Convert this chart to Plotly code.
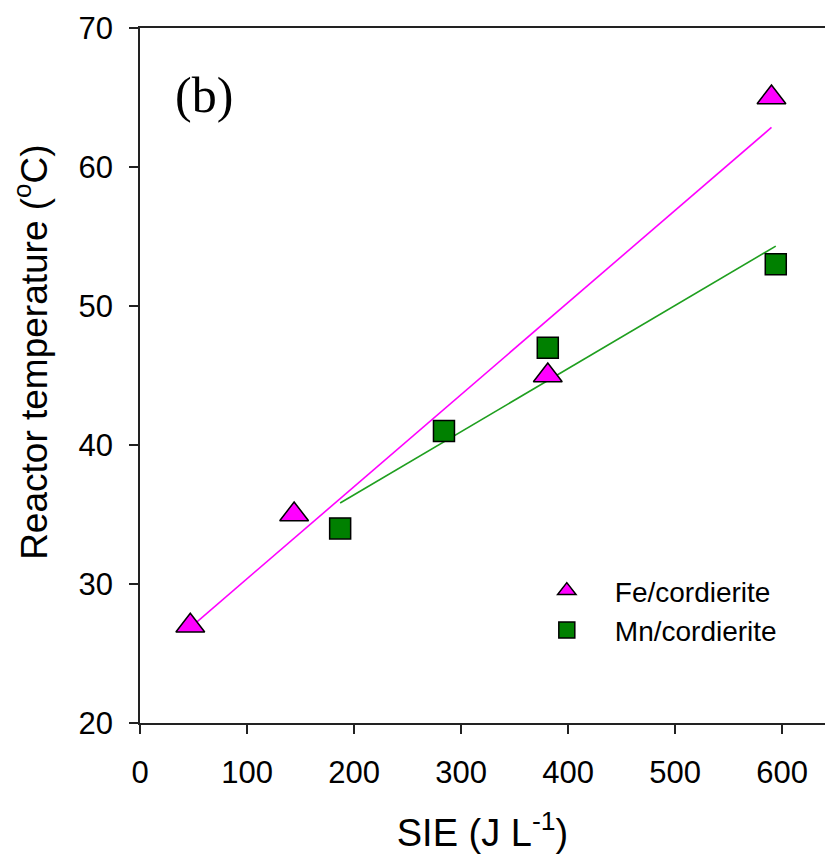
import numpy as np
import plotly.graph_objects as go

# Data
fe_x = [47, 144, 381, 590]
fe_y = [27, 35, 45, 65]
mn_x = [187, 284, 381, 594]
mn_y = [34, 41, 47, 53]

x_ticks = [0, 100, 200, 300, 400, 500, 600]
y_ticks = [20, 30, 40, 50, 60, 70]

# Linear regression fits (as drawn in the reference)
fe_fit = np.polyfit(fe_x, fe_y, 1)
mn_fit = np.polyfit(mn_x, mn_y, 1)
fe_lx = [min(fe_x), max(fe_x)]
mn_lx = [min(mn_x), max(mn_x)]

fig = go.Figure()
fig.add_trace(go.Scatter(x=fe_lx, y=list(np.polyval(fe_fit, fe_lx)), mode="lines",
                         line=dict(color="#ff00ff", width=1.6), showlegend=False, hoverinfo="skip"))
fig.add_trace(go.Scatter(x=mn_lx, y=list(np.polyval(mn_fit, mn_lx)), mode="lines",
                         line=dict(color="#1f9f1f", width=1.6), showlegend=False, hoverinfo="skip"))
fig.add_trace(go.Scatter(x=fe_x, y=fe_y, mode="markers", name="Fe/cordierite",
                         marker=dict(symbol="triangle-up", size=25, color="#ff00ff",
                                     line=dict(color="black", width=1.5))))
fig.add_trace(go.Scatter(x=mn_x, y=mn_y, mode="markers", name="Mn/cordierite",
                         marker=dict(symbol="square", size=21, color="#008000",
                                     line=dict(color="black", width=1.5))))

axis_common = dict(showgrid=False, zeroline=False, showline=True, linecolor="#222",
                   linewidth=1.8, ticks="outside", ticklen=9, tickwidth=1.6, tickcolor="#222",
                   tickfont=dict(family="Liberation Sans, Arial", size=31, color="black"))

fig.update_xaxes(range=[0, 640], tickvals=x_ticks, mirror=True, ticklabelstandoff=12,
                 title=dict(text="SIE (J L<sup>-1</sup>)", standoff=30,
                            font=dict(family="Liberation Sans, Arial", size=38, color="black")),
                 **axis_common)
fig.update_yaxes(range=[20, 70], tickvals=y_ticks, ticklabelstandoff=10, **axis_common)

fig.add_annotation(text="Reactor temperature (<sup>o</sup>C)", textangle=-90,
                   x=-0.1577, y=0.534, xref="paper", yref="paper", showarrow=False,
                   xanchor="center", yanchor="middle",
                   font=dict(family="Liberation Sans, Arial", size=37, color="black"))

fig.add_annotation(text="(b)", x=0.0935, y=0.9036, xref="paper", yref="paper",
                   showarrow=False, xanchor="center", yanchor="middle",
                   font=dict(family="Liberation Serif, Times New Roman", size=50, color="black"))

fig.update_layout(
    width=825, height=862,
    margin=dict(l=140, r=0, t=28, b=139, autoexpand=False),
    paper_bgcolor="white", plot_bgcolor="white",
    showlegend=True,
    legend=dict(x=0.553, y=0.162, xanchor="left", yanchor="middle", bgcolor="rgba(0,0,0,0)",
                itemwidth=86, font=dict(family="Liberation Sans, Arial", size=28, color="black")),
)

fig.write_html("out.html")
